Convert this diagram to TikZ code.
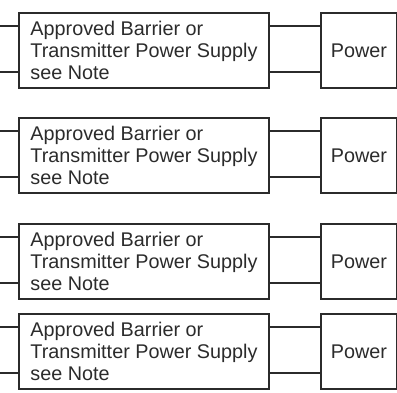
\documentclass[tikz,border=0pt]{standalone}
\usepackage{fontspec}
\setmainfont{Liberation Sans}
\usepackage{tikz}
\definecolor{linegray}{HTML}{2B2B2B}

\begin{document}
\begin{tikzpicture}[x=1pt,y=-1pt,line width=2pt,color=linegray,
  supplybox/.style={draw,anchor=north west,minimum width=250pt,minimum height=75pt,
    align=left,inner sep=0pt,font=\fontsize{19.8}{22}\selectfont},
  powerbox/.style={draw,anchor=north west,minimum width=76pt,minimum height=75pt,
    inner sep=0pt,font=\fontsize{19.8}{22}\selectfont}]
\useasboundingbox (0,0) rectangle (397,393);
% four identical barrier blocks
\foreach \t [count=\i] in {12,117,223,313} {
  \node[supplybox] (supply\i) at (18,\t) {Approved Barrier or\\Transmitter Power Supply\\see Note};
  \node[powerbox] (power\i) at (320,\t) {Power};
  \coordinate (ina\i) at (0,\t+14);
  \coordinate (inb\i) at (0,\t+60);
  \draw (ina\i) -- (ina\i -| supply\i.west);
  \draw (inb\i) -- (inb\i -| supply\i.west);
  \draw (ina\i -| supply\i.east) -- (ina\i -| power\i.west);
  \draw (inb\i -| supply\i.east) -- (inb\i -| power\i.west);
}
\end{tikzpicture}
\end{document}
